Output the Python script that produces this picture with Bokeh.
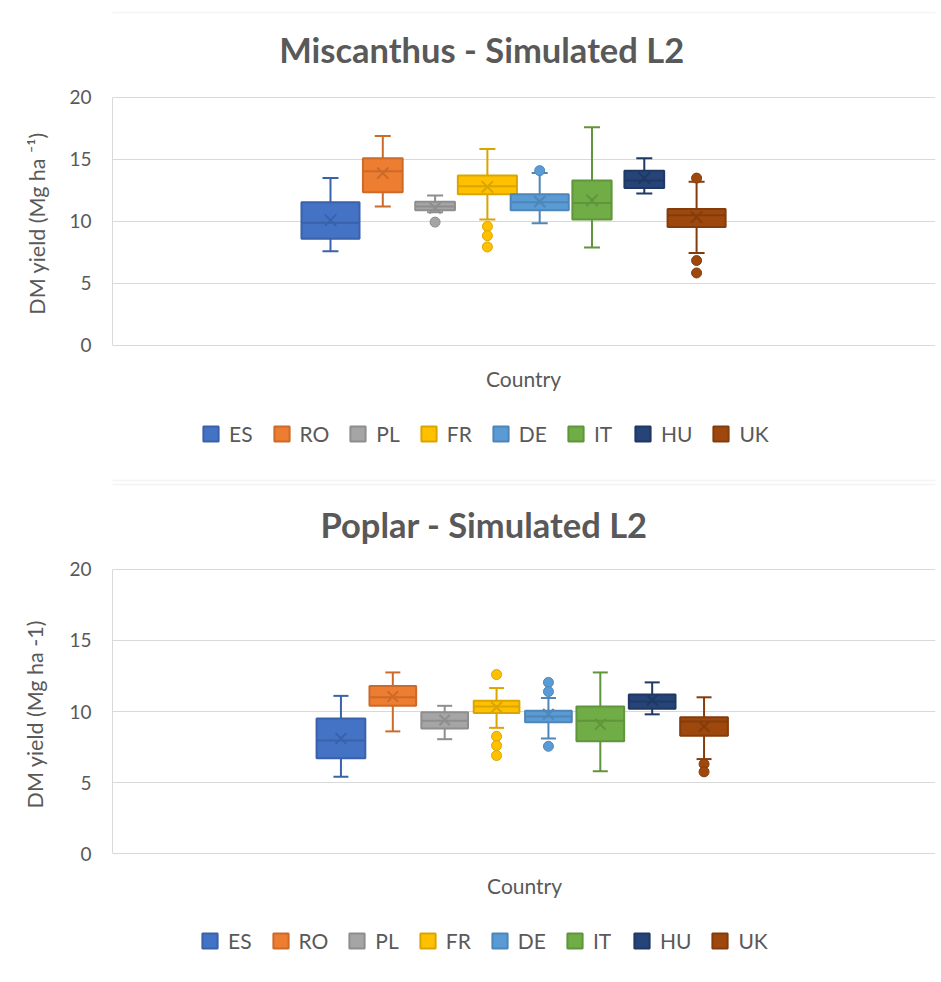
from bokeh.plotting import figure
from bokeh.models import (ColumnDataSource, Range1d, FixedTicker, Label, Legend, LegendItem,
                          BoxAnnotation)
from bokeh.layouts import column
from bokeh.embed import file_html
from bokeh.resources import INLINE

# ---------------- data ----------------
categories = ["ES", "RO", "PL", "FR", "DE", "IT", "HU", "UK"]
y_ticks = [0, 5, 10, 15, 20]

# Miscanthus - Simulated L2
misc_lower = [7.6, 11.2, 10.75, 10.15, 9.85, 7.9, 12.25, 7.45]
misc_q1 = [8.6, 12.35, 10.9, 12.2, 10.9, 10.15, 12.7, 9.55]
misc_median = [9.9, 14.05, 11.2, 12.85, 11.55, 11.5, 13.3, 10.5]
misc_q3 = [11.55, 15.1, 11.6, 13.7, 12.2, 13.3, 14.1, 11.0]
misc_upper = [13.5, 16.9, 12.1, 15.85, 13.9, 17.6, 15.1, 13.2]
misc_mean = [10.1, 13.9, 11.1, 12.8, 11.6, 11.7, 13.5, 10.35]
misc_outliers = [[], [], [9.95], [9.6, 8.85, 7.95], [14.1], [], [], [13.5, 6.85, 5.85]]

# Poplar - Simulated L2
pop_lower = [5.4, 8.6, 8.05, 8.85, 8.1, 5.8, 9.8, 6.65]
pop_q1 = [6.7, 10.4, 8.8, 9.9, 9.25, 7.9, 10.2, 8.3]
pop_median = [7.95, 11.0, 9.35, 10.35, 9.65, 9.35, 10.7, 9.3]
pop_q3 = [9.5, 11.8, 9.95, 10.75, 10.05, 10.35, 11.2, 9.6]
pop_upper = [11.1, 12.75, 10.4, 11.65, 10.95, 12.75, 12.05, 11.0]
pop_mean = [8.1, 11.05, 9.4, 10.3, 9.8, 9.1, 10.8, 8.95]
pop_outliers = [[], [], [], [12.6, 8.25, 7.6, 6.9], [12.05, 11.4, 7.55], [], [], [6.3, 5.75]]

# ---------------- styles ----------------
fill_colors = ["#4472C4", "#ED7D31", "#A5A5A5", "#FFC000", "#5B9BD5", "#70AD47", "#264478", "#9E480E"]
line_colors = ["#3A62AA", "#CC6A2A", "#8E8E8E", "#DBA500", "#4E86B8", "#60953C", "#1F3864", "#843C0C"]
misc_box_widths = [1.11, 0.76, 0.76, 1.13, 1.11, 0.75, 0.76, 1.11]
pop_box_widths = [0.94, 0.9, 0.9, 0.88, 0.9, 0.92, 0.9, 0.92]
TXT = "#595959"
GRID = "#d9d9d9"
FONT = "Lato"


def make_panel(title, ylabel, lower, q1, med, q3, upper, mean, outliers, widths,
               height, border_left, border_bottom, x_rng, y_rng, title_xy, country_xy,
               legend_loc, cap_size, x_size, tick_standoff, label_standoff, frame_boxes):
    xs = list(range(len(categories)))
    src = ColumnDataSource(dict(
        x=xs, cat=categories, lower=lower, q1=q1, med=med, q3=q3, upper=upper, mean=mean,
        w=widths,
        mx0=[x - w / 2 for x, w in zip(xs, widths)],
        mx1=[x + w / 2 for x, w in zip(xs, widths)],
        fill=fill_colors, line=line_colors,
    ))
    ox, oy, ofill, oline = [], [], [], []
    for i, vals in enumerate(outliers):
        for v in vals:
            ox.append(i)
            oy.append(v)
            ofill.append(fill_colors[i])
            oline.append(line_colors[i])
    osrc = ColumnDataSource(dict(x=ox, y=oy, fill=ofill, line=oline))

    p = figure(width=941, height=height, x_range=Range1d(*x_rng), y_range=Range1d(*y_rng),
               output_backend="svg", toolbar_location=None, x_axis_type=None,
               min_border_left=border_left, min_border_right=6, min_border_top=0,
               min_border_bottom=border_bottom, title=None)
    p.outline_line_color = None
    p.background_fill_color = "white"
    p.border_fill_color = "white"

    ax = p.yaxis[0]
    ax.ticker = FixedTicker(ticks=y_ticks)
    ax.bounds = (min(y_ticks), max(y_ticks))
    ax.major_tick_line_color = None
    ax.minor_tick_line_color = None
    ax.major_tick_out = 0
    ax.major_tick_in = 0
    ax.major_label_standoff = tick_standoff
    ax.axis_line_color = GRID
    ax.major_label_text_font = FONT
    ax.major_label_text_font_size = "19px"
    ax.major_label_text_color = TXT
    ax.axis_label = ylabel
    ax.axis_label_text_font = FONT
    ax.axis_label_text_font_size = "21.5px"
    ax.axis_label_text_font_style = "normal"
    ax.axis_label_text_color = TXT
    ax.axis_label_standoff = label_standoff
    p.ygrid.grid_line_color = GRID
    p.ygrid.grid_line_width = 1

    # chart-area borders
    for (l, r, t, b) in frame_boxes:
        p.add_layout(BoxAnnotation(left=l, right=r, top=t, bottom=b, left_units="canvas",
                                   right_units="canvas", top_units="canvas",
                                   bottom_units="canvas", fill_alpha=0, line_color=GRID,
                                   line_width=1.5, level="underlay"))

    # whisker stems
    p.segment(x0="x", x1="x", y0="lower", y1="upper", line_color="line", line_width=2, source=src)
    # boxes
    boxes = p.vbar(x="x", width="w", top="q3", bottom="q1", fill_color="fill",
                   line_color="line", line_width=2, source=src)
    # medians
    p.segment(x0="mx0", x1="mx1", y0="med", y1="med", line_color="line", line_width=2, source=src)
    # caps
    p.scatter(x="x", y="upper", marker="dash", size=cap_size, line_color="line", line_width=2, source=src)
    p.scatter(x="x", y="lower", marker="dash", size=cap_size, line_color="line", line_width=2, source=src)
    # means
    p.scatter(x="x", y="mean", marker="x", size=x_size, line_color="line", line_width=2, source=src)
    # outliers
    p.scatter(x="x", y="y", marker="circle", size=10, fill_color="fill", line_color="line",
              line_width=1, source=osrc)

    p.add_layout(Label(x=title_xy[0], y=title_xy[1], text=title, text_align="center",
                       text_baseline="middle", text_font=FONT, text_font_size="34.5px",
                       text_font_style="bold", text_color=TXT))
    p.add_layout(Label(x=country_xy[0], y=country_xy[1], text="Country", text_align="center",
                       text_baseline="middle", text_font=FONT, text_font_size="21px",
                       text_color=TXT))

    items = [LegendItem(label=c, renderers=[boxes], index=i) for i, c in enumerate(categories)]
    leg = Legend(items=items, orientation="horizontal", location=legend_loc,
                 glyph_width=19, glyph_height=19, label_standoff=9, spacing=19,
                 padding=0, margin=0, border_line_color=None, background_fill_alpha=0,
                 label_text_font=FONT, label_text_font_size="21px", label_text_color=TXT,
                 label_height=19)
    p.add_layout(leg)
    return p


# top chart occupies page rows 0..469, frame rows 0..446
p1 = make_panel("Miscanthus - Simulated L2", "DM yield (Mg ha \u207b\u00b9)",
                misc_lower, misc_q1, misc_median, misc_q3, misc_upper, misc_mean, misc_outliers,
                misc_box_widths, 469, 112, 23, (-4.168, 11.568), (-8.145, 27.82),
                (2.89, 23.87), (3.69, -2.66), (89, 0), 16, 16, 21, 16,
                [(10, 1000, 12, 1000)])

# bottom chart occupies page rows 469..980, frame rows 469..953
p2 = make_panel("Poplar - Simulated L2", "DM yield  (Mg ha -1)",
                pop_lower, pop_q1, pop_median, pop_q3, pop_upper, pop_mean, pop_outliers,
                pop_box_widths, 511, 110, 27, (-4.404, 11.462), (-7.04, 27.04),
                (2.76, 23.17), (3.54, -2.25), (88, 0), 15, 15, 21, 18,
                [(10, 1000, -100, 11), (9, 1000, 15, 1000)])

layout = column(p1, p2, spacing=0)
open("out.html", "w").write(file_html(layout, INLINE))
